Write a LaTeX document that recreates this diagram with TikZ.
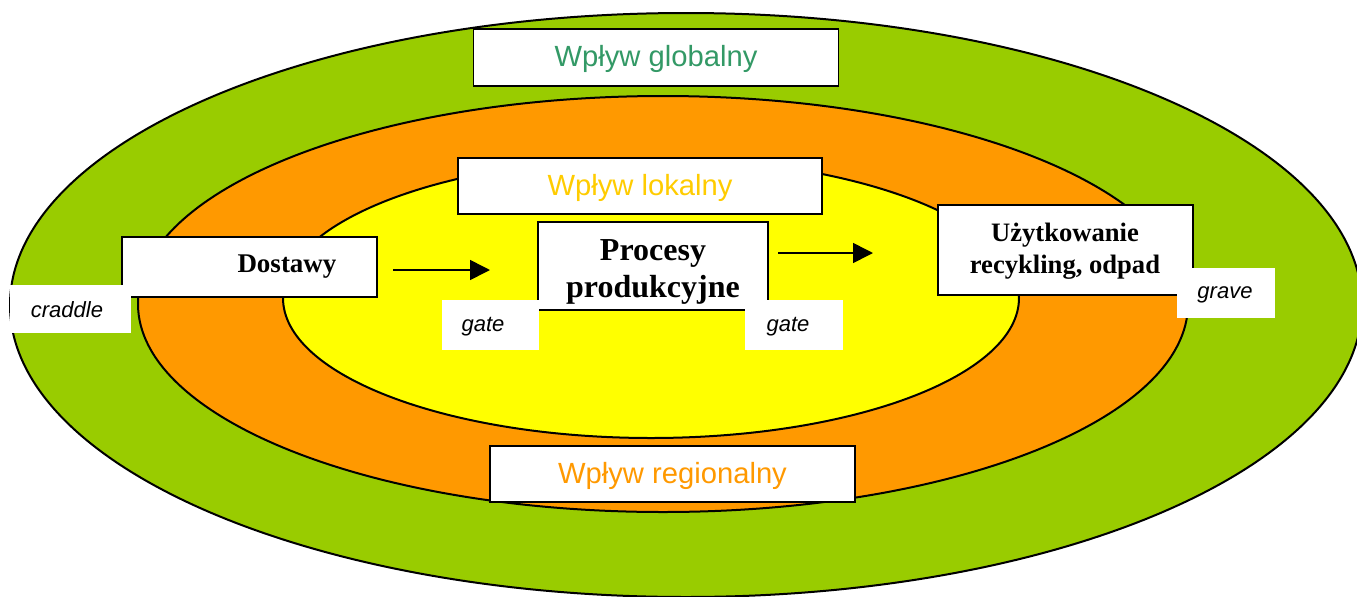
\documentclass[tikz,border=0pt]{standalone}
\usepackage{fontspec}
\setmainfont{Liberation Serif}
\setsansfont{Liberation Sans}
\usetikzlibrary{arrows.meta}
\definecolor{cgreen}{HTML}{99CC00}
\definecolor{corange}{HTML}{FF9900}
\definecolor{cyellow}{HTML}{FFFF00}
\definecolor{tgreen}{HTML}{339966}
\definecolor{tgold}{HTML}{FFCC00}
\definecolor{torange}{HTML}{FF9900}
\tikzset{
  ring/.style={draw=black, line width=1pt},
  wbox/.style={draw=black, fill=white, line width=0.7pt, inner sep=0pt, rectangle},
  plainbox/.style={fill=white, inner sep=0pt, rectangle},
  impact/.style={font=\sffamily\fontsize{14.6}{16}\selectfont},
  tag/.style={font=\sffamily\itshape\fontsize{11}{13}\selectfont},
  stagetext/.style={font=\rmfamily\bfseries, align=center},
  arr/.style={line width=0.8pt, -{Triangle[length=10pt,width=10pt]}}
}
\begin{document}
\begin{tikzpicture}[x=0.5pt,y=-0.5pt]
\useasboundingbox (0,0) rectangle (1357,596);
\clip (0,0) rectangle (1357,596);
% rings
\draw[ring, fill=cgreen] (686,305) ellipse [x radius=338pt, y radius=146pt];
\draw[ring, fill=corange] (663,304) ellipse [x radius=262.5pt, y radius=104pt];
\draw[ring, fill=cyellow] (651,298) ellipse [x radius=184pt, y radius=70pt];
% impact labels
\node[wbox, minimum width=182.5pt, minimum height=28.5pt] (glob) at (656,57.5) {};
\node[impact, text=tgreen] (globt) at (656,59) {Wpływ globalny};
\node[wbox, minimum width=182pt, minimum height=28pt] (lok) at (640,186) {};
\node[impact, text=tgold] (lokt) at (640,188) {Wpływ lokalny};
\node[wbox, minimum width=182.5pt, minimum height=28pt] (reg) at (672.5,474) {};
\node[impact, text=torange] (regt) at (672.5,476) {Wpływ regionalny};
% Dostawy
\node[wbox, minimum width=127.5pt, minimum height=30pt] (dost) at (249.5,267) {};
\node[stagetext, font=\rmfamily\bfseries\fontsize{13.5}{15}\selectfont] (dostt) at (287,267) {Dostawy};
\node[plainbox, minimum width=60.5pt, minimum height=24pt] (crad) at (70.5,309) {};
\node[tag] (cradt) at (67,310) {craddle};
% Procesy
\node[wbox, minimum width=115pt, minimum height=44pt] (proc) at (653,266) {};
\node[stagetext, font=\rmfamily\bfseries\fontsize{16}{18.5}\selectfont] (proct) at (653,272) {Procesy\\produkcyjne};
\node[plainbox, minimum width=48.5pt, minimum height=25pt] (gatel) at (490.5,325) {};
\node[tag] (gatelt) at (483,327) {gate};
\node[plainbox, minimum width=49pt, minimum height=25pt] (gater) at (794,325) {};
\node[tag] (gatert) at (788,327) {gate};
% Uzytkowanie
\node[wbox, minimum width=127.5pt, minimum height=45pt] (uzyt) at (1065.5,250) {};
\node[stagetext, font=\rmfamily\bfseries\fontsize{13.3}{16}\selectfont] (uzytt) at (1065,251) {Użytkowanie\\recykling, odpad};
\node[plainbox, minimum width=49pt, minimum height=25pt] (grave) at (1226,293) {};
\node[tag] (gravet) at (1225,295) {grave};
% arrows
\coordinate (a1s) at (393,270);
\coordinate (a1e) at (490,270);
\coordinate (a2s) at (778,253);
\coordinate (a2e) at (873,253);
\draw[arr] (a1s) -- (a1e);
\draw[arr] (a2s) -- (a2e);
\end{tikzpicture}
\end{document}
